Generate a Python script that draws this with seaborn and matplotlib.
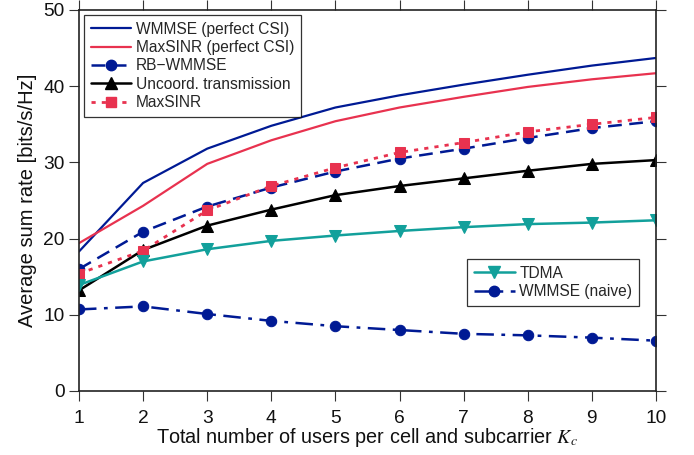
import matplotlib
matplotlib.use("Agg")
import matplotlib.pyplot as plt
import seaborn as sns
import numpy as np
from matplotlib.lines import Line2D

K = [1, 2, 3, 4, 5, 6, 7, 8, 9, 10]
wmmse_perfect = [18.3, 27.3, 31.8, 34.8, 37.2, 38.8, 40.2, 41.5, 42.7, 43.7]
maxsinr_perfect = [19.4, 24.3, 29.8, 32.9, 35.4, 37.2, 38.6, 39.9, 40.9, 41.7]
rb_wmmse = [16.0, 20.9, 24.2, 26.7, 28.8, 30.5, 31.8, 33.2, 34.5, 35.4]
uncoord = [13.2, 18.5, 21.7, 23.8, 25.7, 26.9, 27.9, 28.9, 29.8, 30.3]
maxsinr = [15.4, 18.4, 23.7, 26.9, 29.3, 31.3, 32.6, 34.0, 35.0, 35.9]
tdma = [13.9, 17.0, 18.6, 19.7, 20.4, 21.0, 21.5, 21.9, 22.1, 22.4]
wmmse_naive = [10.7, 11.1, 10.1, 9.2, 8.5, 8.0, 7.5, 7.3, 7.0, 6.6]

xticks = [1, 2, 3, 4, 5, 6, 7, 8, 9, 10]
yticks = [0, 10, 20, 30, 40, 50]

sns.set_style("ticks")
plt.rcParams['font.family'] = ['Liberation Sans', 'DejaVu Sans']
plt.rcParams['mathtext.fontset'] = 'stix'

NAVY = "#001a94"
RED = "#e8324f"
TEAL = "#12a09b"
BLACK = "#000000"

fig = plt.figure(figsize=(6.94, 4.55), dpi=100)
ax = fig.add_axes([0.1138, 0.1407, 0.8314, 0.8374])

series = [
    ("WMMSE (perfect CSI)", wmmse_perfect, dict(color=NAVY, linestyle="-", marker=None, lw=1.6)),
    ("MaxSINR (perfect CSI)", maxsinr_perfect, dict(color=RED, linestyle="-", marker=None, lw=1.6)),
    ("RB\u2212WMMSE", rb_wmmse, dict(color=NAVY, linestyle=(0, (5.5, 3)), marker="o", lw=1.8, ms=7.5)),
    ("Uncoord. transmission", uncoord, dict(color=BLACK, linestyle="-", marker="^", lw=1.8, ms=8)),
    ("MaxSINR", maxsinr, dict(color=RED, linestyle=(0, (1.5, 2.2)), marker="s", lw=2.0, ms=6.5)),
    ("TDMA", tdma, dict(color=TEAL, linestyle="-", marker="v", lw=1.8, ms=8)),
    ("WMMSE (naive)", wmmse_naive, dict(color=NAVY, linestyle=(0, (7, 3, 1.5, 3)), marker="o", lw=1.8, ms=7.5)),
]

handles = []
for name, vals, st in series:
    kw = dict(color=st["color"], linestyle=st["linestyle"], linewidth=st["lw"])
    if st["marker"]:
        kw.update(marker=st["marker"], markersize=st["ms"], markeredgecolor=st["color"],
                  markerfacecolor=st["color"])
    sns.lineplot(x=K, y=vals, ax=ax, legend=False, **kw)
    handles.append(Line2D([], [], **kw))

ax.set_xlim(1, 10)
ax.set_ylim(0, 50)
ax.set_xticks(xticks)
ax.set_yticks(yticks)
ax.tick_params(direction="out", length=7.5, width=0.8, labelsize=13.8, top=True, right=True,
               color="#333333", labelcolor="#111111")
ax.tick_params(axis="x", pad=6.5)
ax.tick_params(axis="y", pad=3)
for s in ax.spines.values():
    s.set_visible(True)
    s.set_linewidth(1.2)
    s.set_color("#222222")

ax.set_xlabel("Total number of users per cell and subcarrier $K_c$", fontsize=14.3, labelpad=-1,
              color="#111111")
ax.set_ylabel("Average sum rate [bits/s/Hz]", fontsize=14.5, labelpad=4, color="#111111")

common = dict(fontsize=11.2, frameon=True, fancybox=False, edgecolor="black",
              handlelength=2.6, handletextpad=0.3, borderpad=0.45, labelspacing=0.22)
leg1 = ax.legend(handles=handles[:5], labels=[s[0] for s in series[:5]], loc="upper left",
                 borderaxespad=0.3, **common)
leg1.get_frame().set_linewidth(0.9)
ax.add_artist(leg1)
leg2 = ax.legend(handles=handles[5:], labels=[s[0] for s in series[5:]], loc="center",
                 bbox_to_anchor=(0.822, 0.285), **common)
leg2.get_frame().set_linewidth(0.9)

fig.savefig("out.png", dpi=100)
